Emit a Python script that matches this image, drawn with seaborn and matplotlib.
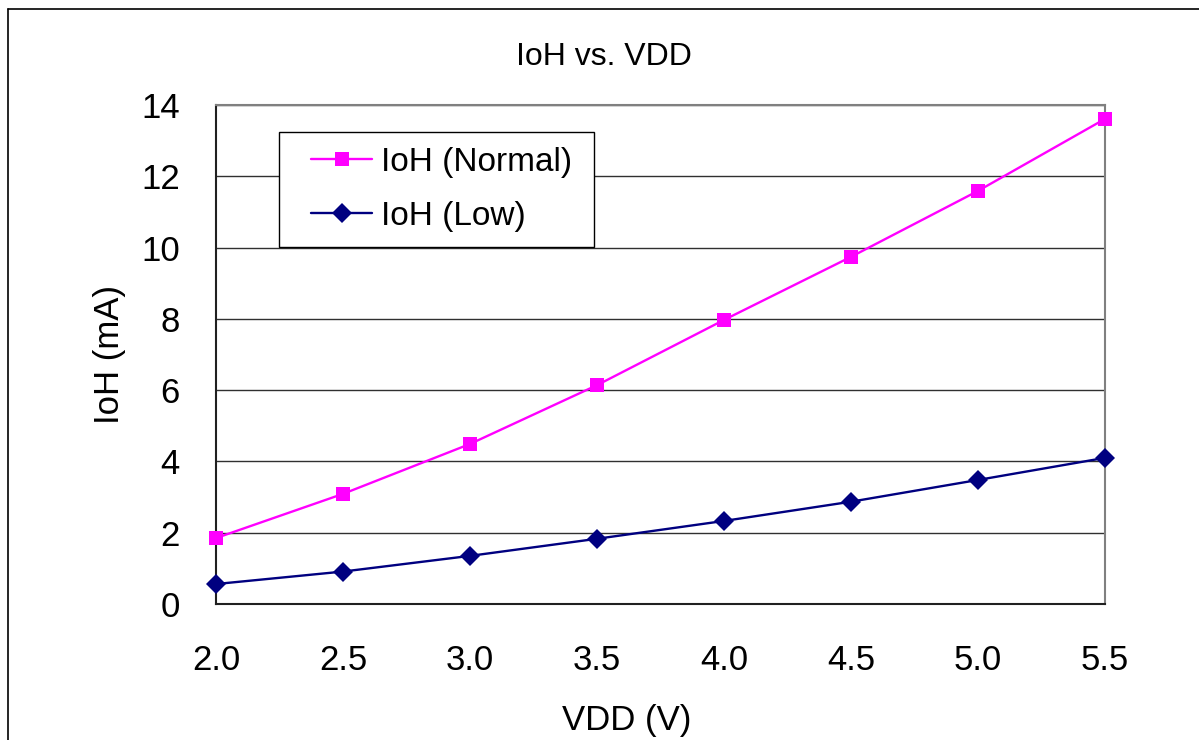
import numpy as np
import pandas as pd
import matplotlib
matplotlib.use("Agg")
import matplotlib.pyplot as plt
import seaborn as sns
from matplotlib.lines import Line2D
from matplotlib.legend_handler import HandlerLine2D

sns.set_style("white")
plt.rcParams['font.family'] = ['Liberation Sans', 'DejaVu Sans']
plt.rcParams['text.color'] = 'black'
plt.rcParams['axes.labelcolor'] = 'black'
plt.rcParams['xtick.color'] = 'black'
plt.rcParams['ytick.color'] = 'black'

# === Data ===
vdd = [2.0, 2.5, 3.0, 3.5, 4.0, 4.5, 5.0, 5.5]
ioh_normal = [1.85, 3.09, 4.49, 6.14, 7.97, 9.74, 11.59, 13.61]
ioh_low = [0.56, 0.91, 1.35, 1.83, 2.33, 2.87, 3.48, 4.10]
x_ticks = [2.0, 2.5, 3.0, 3.5, 4.0, 4.5, 5.0, 5.5]
y_ticks = [0, 2, 4, 6, 8, 10, 12, 14]

df = pd.DataFrame({
    'VDD': vdd * 2,
    'IoH': ioh_normal + ioh_low,
    'Series': ['IoH (Normal)'] * len(vdd) + ['IoH (Low)'] * len(vdd),
})

fig = plt.figure(figsize=(11.99, 7.40), dpi=100)
ax = fig.add_axes([0.1802, 0.1838, 0.9216 - 0.1802, 0.8581 - 0.1838])

# outer chart frame (only top and left edges visible in the crop)
fig.add_artist(plt.Line2D([0.0067, 1.0], [1 - 9 / 740, 1 - 9 / 740], color='black', lw=1.2,
                          transform=fig.transFigure))
fig.add_artist(plt.Line2D([0.0067, 0.0067], [0.0, 1 - 9 / 740], color='black', lw=1.2,
                          transform=fig.transFigure))

sns.lineplot(data=df, x='VDD', y='IoH', hue='Series', style='Series',
             palette={'IoH (Normal)': '#FF00FF', 'IoH (Low)': '#000080'},
             markers={'IoH (Normal)': 's', 'IoH (Low)': 'D'},
             dashes=False, markersize=10, markeredgewidth=0, linewidth=1.7,
             ax=ax, zorder=3, clip_on=False)

ax.set_xlim(2.0, 5.5)
ax.set_ylim(0, 14)
ax.set_xticks(x_ticks)
ax.set_xticklabels([f"{t:.1f}" for t in x_ticks])
ax.set_yticks(y_ticks)
ax.tick_params(axis='both', direction='in', length=12, width=1, color='#303030',
               labelsize=25, labelcolor='black')
ax.tick_params(axis='x', pad=29)
ax.tick_params(axis='y', pad=26)
ax.grid(axis='y', color='#303030', lw=1)
ax.set_axisbelow(True)

for side in ['left', 'bottom']:
    ax.spines[side].set_color('#202020')
    ax.spines[side].set_linewidth(1.5)
for side in ['top', 'right']:
    ax.spines[side].set_color('#808080')
    ax.spines[side].set_linewidth(1.5)

# title and x label sit centred on the chart area, not the plot area
ax.set_title('IoH vs. VDD', fontsize=23, pad=29, color='black', x=0.436)
ax.set_xlabel('VDD (V)', fontsize=25, labelpad=19, x=0.462)
ax.set_ylabel('IoH (mA)', fontsize=25, labelpad=11)

leg = ax.legend(loc='upper left', bbox_to_anchor=(0.0709, 0.70, 0.354, 0.2459),
                mode='expand', fontsize=24, frameon=True, fancybox=False,
                handlelength=2.35, handletextpad=0.25, borderpad=0.45,
                labelspacing=0.68, borderaxespad=0,
                handler_map={Line2D: HandlerLine2D(xpad=0.5)})
leg.get_frame().set_edgecolor('black')
leg.get_frame().set_linewidth(1)
leg.get_frame().set_alpha(1)

fig.savefig('out.png', dpi=100)
